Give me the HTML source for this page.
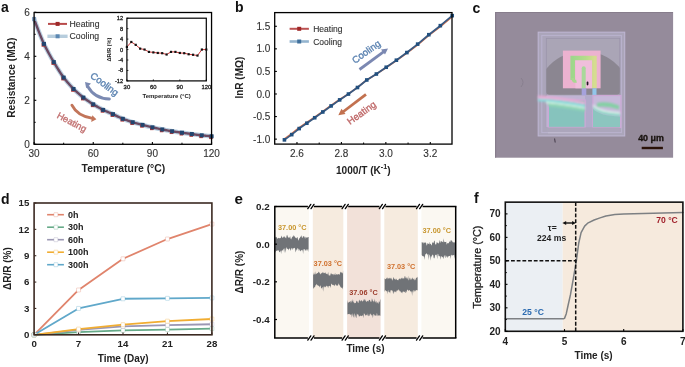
<!DOCTYPE html>
<html><head><meta charset="utf-8"><style>
html,body{margin:0;padding:0;background:#fff;}
svg{display:block;font-family:"Liberation Sans", sans-serif;will-change:transform;}
</style></head><body>
<svg width="685" height="367" viewBox="0 0 685 367">
<rect width="685" height="367" fill="#fff"/>
<text x="1.00" y="12.40" font-size="14" font-weight="bold" text-anchor="start" fill="#111">a</text>
<g>
<polyline points="34.10,18.96 35.09,21.71 36.07,24.40 37.06,27.03 38.04,29.61 39.03,32.13 40.02,34.59 41.00,37.00 41.99,39.35 42.97,41.66 43.96,43.91 44.94,45.90 45.93,47.85 46.92,49.76 47.90,51.63 48.89,53.47 49.87,55.26 50.86,57.03 51.84,58.76 52.83,60.45 53.82,62.11 54.80,63.81 55.79,65.47 56.77,67.10 57.76,68.70 58.75,70.26 59.73,71.80 60.72,73.30 61.70,74.76 62.69,76.20 63.68,77.61 64.66,78.85 65.65,80.06 66.63,81.25 67.62,82.42 68.60,83.56 69.59,84.69 70.58,85.79 71.56,86.88 72.55,87.94 73.53,88.99 74.52,89.91 75.50,90.82 76.49,91.72 77.48,92.60 78.46,93.47 79.45,94.32 80.43,95.16 81.42,95.98 82.41,96.79 83.39,97.59 84.38,98.31 85.36,99.02 86.35,99.72 87.34,100.41 88.32,101.09 89.31,101.76 90.29,102.42 91.28,103.07 92.26,103.71 93.25,104.33 94.24,104.93 95.22,105.51 96.21,106.09 97.19,106.66 98.18,107.22 99.16,107.77 100.15,108.32 101.14,108.85 102.12,109.38 103.11,109.90 104.09,110.35 105.08,110.80 106.07,111.24 107.05,111.67 108.04,112.10 109.02,112.52 110.01,112.94 111.00,113.35 111.98,113.75 112.97,114.15 113.95,114.65 114.94,115.14 115.92,115.63 116.91,116.10 117.90,116.57 118.88,117.03 119.87,117.48 120.85,117.92 121.84,118.36 122.83,118.79 123.81,119.16 124.80,119.52 125.78,119.88 126.77,120.23 127.75,120.57 128.74,120.92 129.73,121.25 130.71,121.58 131.70,121.91 132.68,122.23 133.67,122.52 134.66,122.80 135.64,123.07 136.63,123.34 137.61,123.61 138.60,123.88 139.58,124.14 140.57,124.40 141.56,124.65 142.54,124.90 143.53,125.16 144.51,125.42 145.50,125.67 146.49,125.92 147.47,126.16 148.46,126.40 149.44,126.64 150.43,126.88 151.41,127.11 152.40,127.34 153.39,127.56 154.37,127.79 155.36,128.01 156.34,128.22 157.33,128.44 158.31,128.65 159.30,128.86 160.29,129.06 161.27,129.26 162.26,129.46 163.24,129.65 164.23,129.84 165.22,130.02 166.20,130.20 167.19,130.38 168.17,130.56 169.16,130.74 170.15,130.91 171.13,131.08 172.12,131.25 173.10,131.40 174.09,131.56 175.07,131.71 176.06,131.86 177.05,132.01 178.03,132.16 179.02,132.31 180.00,132.45 180.99,132.59 181.98,132.73 182.96,132.87 183.95,133.01 184.93,133.14 185.92,133.27 186.90,133.40 187.89,133.53 188.88,133.66 189.86,133.78 190.85,133.91 191.83,134.03 192.82,134.17 193.81,134.30 194.79,134.44 195.78,134.57 196.76,134.70 197.75,134.83 198.73,134.95 199.72,135.08 200.71,135.20 201.69,135.32 202.68,135.42 203.66,135.53 204.65,135.63 205.64,135.73 206.62,135.83 207.61,135.92 208.59,136.02 209.58,136.12 210.56,136.21 211.55,136.30" fill="none" stroke="#bcd2e3" stroke-width="4.6" stroke-linejoin="round" stroke-linecap="round"/>
<polyline points="34.10,18.96 35.09,21.71 36.07,24.40 37.06,27.03 38.04,29.61 39.03,32.13 40.02,34.59 41.00,37.00 41.99,39.35 42.97,41.66 43.96,43.91 44.94,45.90 45.93,47.85 46.92,49.76 47.90,51.63 48.89,53.47 49.87,55.26 50.86,57.03 51.84,58.76 52.83,60.45 53.82,62.11 54.80,63.81 55.79,65.47 56.77,67.10 57.76,68.70 58.75,70.26 59.73,71.80 60.72,73.30 61.70,74.76 62.69,76.20 63.68,77.61 64.66,78.85 65.65,80.06 66.63,81.25 67.62,82.42 68.60,83.56 69.59,84.69 70.58,85.79 71.56,86.88 72.55,87.94 73.53,88.99 74.52,89.91 75.50,90.82 76.49,91.72 77.48,92.60 78.46,93.47 79.45,94.32 80.43,95.16 81.42,95.98 82.41,96.79 83.39,97.59 84.38,98.31 85.36,99.02 86.35,99.72 87.34,100.41 88.32,101.09 89.31,101.76 90.29,102.42 91.28,103.07 92.26,103.71 93.25,104.33 94.24,104.93 95.22,105.51 96.21,106.09 97.19,106.66 98.18,107.22 99.16,107.77 100.15,108.32 101.14,108.85 102.12,109.38 103.11,109.90 104.09,110.35 105.08,110.80 106.07,111.24 107.05,111.67 108.04,112.10 109.02,112.52 110.01,112.94 111.00,113.35 111.98,113.75 112.97,114.15 113.95,114.65 114.94,115.14 115.92,115.63 116.91,116.10 117.90,116.57 118.88,117.03 119.87,117.48 120.85,117.92 121.84,118.36 122.83,118.79 123.81,119.16 124.80,119.52 125.78,119.88 126.77,120.23 127.75,120.57 128.74,120.92 129.73,121.25 130.71,121.58 131.70,121.91 132.68,122.23 133.67,122.52 134.66,122.80 135.64,123.07 136.63,123.34 137.61,123.61 138.60,123.88 139.58,124.14 140.57,124.40 141.56,124.65 142.54,124.90 143.53,125.16 144.51,125.42 145.50,125.67 146.49,125.92 147.47,126.16 148.46,126.40 149.44,126.64 150.43,126.88 151.41,127.11 152.40,127.34 153.39,127.56 154.37,127.79 155.36,128.01 156.34,128.22 157.33,128.44 158.31,128.65 159.30,128.86 160.29,129.06 161.27,129.26 162.26,129.46 163.24,129.65 164.23,129.84 165.22,130.02 166.20,130.20 167.19,130.38 168.17,130.56 169.16,130.74 170.15,130.91 171.13,131.08 172.12,131.25 173.10,131.40 174.09,131.56 175.07,131.71 176.06,131.86 177.05,132.01 178.03,132.16 179.02,132.31 180.00,132.45 180.99,132.59 181.98,132.73 182.96,132.87 183.95,133.01 184.93,133.14 185.92,133.27 186.90,133.40 187.89,133.53 188.88,133.66 189.86,133.78 190.85,133.91 191.83,134.03 192.82,134.17 193.81,134.30 194.79,134.44 195.78,134.57 196.76,134.70 197.75,134.83 198.73,134.95 199.72,135.08 200.71,135.20 201.69,135.32 202.68,135.42 203.66,135.53 204.65,135.63 205.64,135.73 206.62,135.83 207.61,135.92 208.59,136.02 209.58,136.12 210.56,136.21 211.55,136.30" fill="none" stroke="#6a4a62" stroke-width="2.4" stroke-linejoin="round" stroke-linecap="round"/>
<rect x="41.56" y="43.11" width="3.6" height="3.6" fill="#b23c3c"/>
<rect x="51.42" y="61.31" width="3.6" height="3.6" fill="#b23c3c"/>
<rect x="61.28" y="76.81" width="3.6" height="3.6" fill="#b23c3c"/>
<rect x="71.13" y="88.19" width="3.6" height="3.6" fill="#b23c3c"/>
<rect x="80.99" y="96.79" width="3.6" height="3.6" fill="#b23c3c"/>
<rect x="90.85" y="103.53" width="3.6" height="3.6" fill="#b23c3c"/>
<rect x="100.71" y="109.10" width="3.6" height="3.6" fill="#b23c3c"/>
<rect x="110.57" y="113.35" width="3.6" height="3.6" fill="#b23c3c"/>
<rect x="120.43" y="117.99" width="3.6" height="3.6" fill="#b23c3c"/>
<rect x="130.28" y="121.43" width="3.6" height="3.6" fill="#b23c3c"/>
<rect x="140.14" y="124.10" width="3.6" height="3.6" fill="#b23c3c"/>
<rect x="150.00" y="126.54" width="3.6" height="3.6" fill="#b23c3c"/>
<rect x="159.86" y="128.66" width="3.6" height="3.6" fill="#b23c3c"/>
<rect x="169.72" y="130.45" width="3.6" height="3.6" fill="#b23c3c"/>
<rect x="179.58" y="131.93" width="3.6" height="3.6" fill="#b23c3c"/>
<rect x="189.43" y="133.23" width="3.6" height="3.6" fill="#b23c3c"/>
<rect x="199.29" y="134.52" width="3.6" height="3.6" fill="#b23c3c"/>
<rect x="209.15" y="135.50" width="3.6" height="3.6" fill="#b23c3c"/>
<rect x="32.10" y="16.96" width="4" height="4" fill="#7f9cc0"/>
<rect x="41.96" y="41.91" width="4" height="4" fill="#22456f"/>
<rect x="51.82" y="60.11" width="4" height="4" fill="#22456f"/>
<rect x="61.68" y="75.61" width="4" height="4" fill="#22456f"/>
<rect x="71.53" y="86.99" width="4" height="4" fill="#22456f"/>
<rect x="81.39" y="95.59" width="4" height="4" fill="#22456f"/>
<rect x="91.25" y="102.33" width="4" height="4" fill="#22456f"/>
<rect x="101.11" y="107.90" width="4" height="4" fill="#22456f"/>
<rect x="110.97" y="112.15" width="4" height="4" fill="#22456f"/>
<rect x="120.83" y="116.79" width="4" height="4" fill="#22456f"/>
<rect x="130.68" y="120.23" width="4" height="4" fill="#22456f"/>
<rect x="140.54" y="122.90" width="4" height="4" fill="#22456f"/>
<rect x="150.40" y="125.34" width="4" height="4" fill="#22456f"/>
<rect x="160.26" y="127.46" width="4" height="4" fill="#22456f"/>
<rect x="170.12" y="129.25" width="4" height="4" fill="#22456f"/>
<rect x="179.98" y="130.73" width="4" height="4" fill="#22456f"/>
<rect x="189.83" y="132.03" width="4" height="4" fill="#22456f"/>
<rect x="199.69" y="133.32" width="4" height="4" fill="#22456f"/>
<rect x="209.55" y="134.30" width="4" height="4" fill="#22456f"/>
</g>
<rect x="34.1" y="12.5" width="177.45" height="131.80" fill="none" stroke="#000" stroke-width="1.3"/>
<line x1="34.10" y1="144.30" x2="34.10" y2="142.10" stroke="#000" stroke-width="1.1"/>
<text x="34.10" y="156.60" font-size="10" text-anchor="middle" fill="#333" stroke="#333" stroke-width="0.12">30</text>
<line x1="93.25" y1="144.30" x2="93.25" y2="142.10" stroke="#000" stroke-width="1.1"/>
<text x="93.25" y="156.60" font-size="10" text-anchor="middle" fill="#333" stroke="#333" stroke-width="0.12">60</text>
<line x1="152.40" y1="144.30" x2="152.40" y2="142.10" stroke="#000" stroke-width="1.1"/>
<text x="152.40" y="156.60" font-size="10" text-anchor="middle" fill="#333" stroke="#333" stroke-width="0.12">90</text>
<line x1="211.55" y1="144.30" x2="211.55" y2="142.10" stroke="#000" stroke-width="1.1"/>
<text x="211.55" y="156.60" font-size="10" text-anchor="middle" fill="#333" stroke="#333" stroke-width="0.12">120</text>
<line x1="63.68" y1="144.30" x2="63.68" y2="142.70" stroke="#000" stroke-width="1.0"/>
<line x1="122.83" y1="144.30" x2="122.83" y2="142.70" stroke="#000" stroke-width="1.0"/>
<line x1="181.98" y1="144.30" x2="181.98" y2="142.70" stroke="#000" stroke-width="1.0"/>
<line x1="34.10" y1="144.30" x2="36.30" y2="144.30" stroke="#000" stroke-width="1.1"/>
<text x="29.80" y="147.90" font-size="10" text-anchor="end" fill="#333" stroke="#333" stroke-width="0.12">0</text>
<line x1="34.10" y1="100.30" x2="36.30" y2="100.30" stroke="#000" stroke-width="1.1"/>
<text x="29.80" y="103.90" font-size="10" text-anchor="end" fill="#333" stroke="#333" stroke-width="0.12">2</text>
<line x1="34.10" y1="56.30" x2="36.30" y2="56.30" stroke="#000" stroke-width="1.1"/>
<text x="29.80" y="59.90" font-size="10" text-anchor="end" fill="#333" stroke="#333" stroke-width="0.12">4</text>
<line x1="34.10" y1="12.30" x2="36.30" y2="12.30" stroke="#000" stroke-width="1.1"/>
<text x="29.80" y="15.90" font-size="10" text-anchor="end" fill="#333" stroke="#333" stroke-width="0.12">6</text>
<line x1="34.10" y1="122.30" x2="35.70" y2="122.30" stroke="#000" stroke-width="1.0"/>
<line x1="34.10" y1="78.30" x2="35.70" y2="78.30" stroke="#000" stroke-width="1.0"/>
<line x1="34.10" y1="34.30" x2="35.70" y2="34.30" stroke="#000" stroke-width="1.0"/>
<text x="123.40" y="171.60" font-size="10.4" font-weight="bold" text-anchor="middle" fill="#222">Temperature (°C)</text>
<text x="14.70" y="77.75" font-size="10.2" font-weight="bold" text-anchor="middle" fill="#222" transform="rotate(-90 14.70 77.75)">Resistance (MΩ)</text>
<line x1="48.00" y1="23.90" x2="67.00" y2="23.90" stroke="#b84a4a" stroke-width="2.0"/>
<rect x="55.6" y="21.9" width="4" height="4" fill="#9e2a2a"/>
<line x1="47.40" y1="36.30" x2="67.60" y2="36.30" stroke="#b7cddd" stroke-width="3.4"/>
<rect x="55.6" y="34.3" width="4" height="4" fill="#5c88b2"/>
<text x="69.60" y="26.80" font-size="8.7" text-anchor="start" fill="#333" stroke="#333" stroke-width="0.12">Heating</text>
<text x="69.60" y="39.00" font-size="8.7" text-anchor="start" fill="#333" stroke="#333" stroke-width="0.12">Cooling</text>
<text x="89.60" y="76.90" font-size="9.6" text-anchor="start" fill="#5d84b2" transform="rotate(37 89.60 76.90)" stroke="#5d84b2" stroke-width="0.35">Cooling</text>
<path d="M109.4,99 Q94.5,98.5 87.8,86.5" fill="none" stroke="#7b8ab2" stroke-width="2.9" stroke-linecap="round"/>
<path d="M85.0,82.0 L91.0,83.6 L86.2,88.2 Z" fill="#7b8ab2"/>
<text x="56.20" y="117.40" font-size="9.3" text-anchor="start" fill="#c27171" transform="rotate(28 56.20 117.40)" stroke="#c27171" stroke-width="0.35">Heating</text>
<path d="M71.9,105.2 Q77.5,116.3 92.6,118.4" fill="none" stroke="#c2755a" stroke-width="2.9" stroke-linecap="round"/>
<path d="M96.4,119.3 L92.3,115.2 L91.2,121.9 Z" fill="#c2755a"/>
<rect x="126.9" y="18.2" width="79.40" height="62.70" fill="#fff" stroke="#000" stroke-width="1.2"/>
<polyline points="126.90,46.94 131.31,41.97 135.72,44.85 140.13,48.64 144.54,49.55 148.96,51.90 153.37,52.42 157.78,52.95 162.19,53.21 166.60,54.51 171.01,51.90 175.42,51.90 179.83,52.95 184.24,53.21 188.66,54.25 193.07,54.78 197.48,55.56 201.89,49.55 206.30,49.55" fill="none" stroke="#d03a3a" stroke-width="1.0" stroke-linejoin="round" stroke-linecap="round"/>
<rect x="125.80" y="45.84" width="2.2" height="2.2" fill="#111"/>
<rect x="130.21" y="40.87" width="2.2" height="2.2" fill="#111"/>
<rect x="134.62" y="43.75" width="2.2" height="2.2" fill="#111"/>
<rect x="139.03" y="47.54" width="2.2" height="2.2" fill="#111"/>
<rect x="143.44" y="48.45" width="2.2" height="2.2" fill="#111"/>
<rect x="147.86" y="50.80" width="2.2" height="2.2" fill="#111"/>
<rect x="152.27" y="51.32" width="2.2" height="2.2" fill="#111"/>
<rect x="156.68" y="51.85" width="2.2" height="2.2" fill="#111"/>
<rect x="161.09" y="52.11" width="2.2" height="2.2" fill="#111"/>
<rect x="165.50" y="53.41" width="2.2" height="2.2" fill="#111"/>
<rect x="169.91" y="50.80" width="2.2" height="2.2" fill="#111"/>
<rect x="174.32" y="50.80" width="2.2" height="2.2" fill="#111"/>
<rect x="178.73" y="51.85" width="2.2" height="2.2" fill="#111"/>
<rect x="183.14" y="52.11" width="2.2" height="2.2" fill="#111"/>
<rect x="187.56" y="53.15" width="2.2" height="2.2" fill="#111"/>
<rect x="191.97" y="53.68" width="2.2" height="2.2" fill="#111"/>
<rect x="196.38" y="54.46" width="2.2" height="2.2" fill="#111"/>
<rect x="200.79" y="48.45" width="2.2" height="2.2" fill="#111"/>
<rect x="205.20" y="48.45" width="2.2" height="2.2" fill="#111"/>
<line x1="126.90" y1="18.20" x2="128.40" y2="18.20" stroke="#000" stroke-width="0.8"/>
<text x="123.20" y="20.20" font-size="5.7" text-anchor="end" fill="#222" stroke="#222" stroke-width="0.3">12</text>
<line x1="126.90" y1="28.65" x2="128.40" y2="28.65" stroke="#000" stroke-width="0.8"/>
<text x="123.20" y="30.65" font-size="5.7" text-anchor="end" fill="#222" stroke="#222" stroke-width="0.3">8</text>
<line x1="126.90" y1="39.10" x2="128.40" y2="39.10" stroke="#000" stroke-width="0.8"/>
<text x="123.20" y="41.10" font-size="5.7" text-anchor="end" fill="#222" stroke="#222" stroke-width="0.3">4</text>
<line x1="126.90" y1="49.55" x2="128.40" y2="49.55" stroke="#000" stroke-width="0.8"/>
<text x="123.20" y="51.55" font-size="5.7" text-anchor="end" fill="#222" stroke="#222" stroke-width="0.3">0</text>
<line x1="126.90" y1="60.00" x2="128.40" y2="60.00" stroke="#000" stroke-width="0.8"/>
<text x="123.20" y="62.00" font-size="5.7" text-anchor="end" fill="#222" stroke="#222" stroke-width="0.3">-4</text>
<line x1="126.90" y1="70.45" x2="128.40" y2="70.45" stroke="#000" stroke-width="0.8"/>
<text x="123.20" y="72.45" font-size="5.7" text-anchor="end" fill="#222" stroke="#222" stroke-width="0.3">-8</text>
<line x1="126.90" y1="80.90" x2="128.40" y2="80.90" stroke="#000" stroke-width="0.8"/>
<text x="123.20" y="82.90" font-size="5.7" text-anchor="end" fill="#222" stroke="#222" stroke-width="0.3">-12</text>
<line x1="126.90" y1="80.90" x2="126.90" y2="79.40" stroke="#000" stroke-width="0.8"/>
<text x="126.90" y="89.00" font-size="5.9" text-anchor="middle" fill="#222" stroke="#222" stroke-width="0.3">30</text>
<line x1="153.37" y1="80.90" x2="153.37" y2="79.40" stroke="#000" stroke-width="0.8"/>
<text x="153.37" y="89.00" font-size="5.9" text-anchor="middle" fill="#222" stroke="#222" stroke-width="0.3">60</text>
<line x1="179.83" y1="80.90" x2="179.83" y2="79.40" stroke="#000" stroke-width="0.8"/>
<text x="179.83" y="89.00" font-size="5.9" text-anchor="middle" fill="#222" stroke="#222" stroke-width="0.3">90</text>
<line x1="206.30" y1="80.90" x2="206.30" y2="79.40" stroke="#000" stroke-width="0.8"/>
<text x="206.30" y="89.00" font-size="5.9" text-anchor="middle" fill="#222" stroke="#222" stroke-width="0.3">120</text>
<text x="166.60" y="97.60" font-size="6.0" font-weight="bold" text-anchor="middle" fill="#222">Temperature (°C)</text>
<text x="111.20" y="49.50" font-size="5.6" font-weight="bold" text-anchor="middle" fill="#222" transform="rotate(-90 111.20 49.50)">ΔR/R (%)</text>
<text x="235.10" y="12.00" font-size="14" font-weight="bold" text-anchor="start" fill="#111">b</text>
<polyline points="452.22,16.74 440.33,26.61 428.81,35.49 417.66,44.78 406.86,53.08 396.38,60.57 386.22,67.48 376.35,74.12 366.78,79.95 357.48,87.37 348.44,93.80 339.66,99.51 331.12,105.44 322.81,111.39 314.72,117.06 306.85,122.42 299.18,127.69 291.71,133.64 284.43,138.78" fill="none" stroke="#d0714e" stroke-width="1.6" stroke-linejoin="round" stroke-linecap="round"/>
<polyline points="452.22,15.65 440.33,25.67 428.81,34.70 417.66,44.13 406.86,52.57 396.38,60.20 386.22,67.24 376.35,74.01 366.78,79.97 357.48,87.51 348.44,94.05 339.66,99.88 331.12,105.93 322.81,111.98 314.72,117.75 306.85,123.22 299.18,128.59 291.71,134.64 284.43,139.87" fill="none" stroke="#3a5a82" stroke-width="1.8" stroke-linejoin="round" stroke-linecap="round"/>
<rect x="450.42" y="13.85" width="3.6" height="3.6" fill="#22507f"/>
<rect x="438.53" y="23.87" width="3.6" height="3.6" fill="#22507f"/>
<rect x="427.01" y="32.90" width="3.6" height="3.6" fill="#22507f"/>
<rect x="415.86" y="42.33" width="3.6" height="3.6" fill="#22507f"/>
<rect x="405.06" y="50.77" width="3.6" height="3.6" fill="#22507f"/>
<rect x="394.58" y="58.40" width="3.6" height="3.6" fill="#22507f"/>
<rect x="384.42" y="65.44" width="3.6" height="3.6" fill="#22507f"/>
<rect x="374.55" y="72.21" width="3.6" height="3.6" fill="#22507f"/>
<rect x="364.98" y="78.17" width="3.6" height="3.6" fill="#22507f"/>
<rect x="355.68" y="85.71" width="3.6" height="3.6" fill="#22507f"/>
<rect x="346.64" y="92.25" width="3.6" height="3.6" fill="#22507f"/>
<rect x="337.86" y="98.08" width="3.6" height="3.6" fill="#22507f"/>
<rect x="329.32" y="104.13" width="3.6" height="3.6" fill="#22507f"/>
<rect x="321.01" y="110.18" width="3.6" height="3.6" fill="#22507f"/>
<rect x="312.92" y="115.95" width="3.6" height="3.6" fill="#22507f"/>
<rect x="305.05" y="121.42" width="3.6" height="3.6" fill="#22507f"/>
<rect x="297.38" y="126.79" width="3.6" height="3.6" fill="#22507f"/>
<rect x="289.91" y="132.84" width="3.6" height="3.6" fill="#22507f"/>
<rect x="282.63" y="138.07" width="3.6" height="3.6" fill="#22507f"/>
<rect x="274.7" y="12.6" width="177.30" height="131.50" fill="none" stroke="#000" stroke-width="1.3"/>
<line x1="296.97" y1="144.10" x2="296.97" y2="141.90" stroke="#000" stroke-width="1.1"/>
<text x="296.97" y="156.80" font-size="10" text-anchor="middle" fill="#333" stroke="#333" stroke-width="0.12">2.6</text>
<line x1="341.41" y1="144.10" x2="341.41" y2="141.90" stroke="#000" stroke-width="1.1"/>
<text x="341.41" y="156.80" font-size="10" text-anchor="middle" fill="#333" stroke="#333" stroke-width="0.12">2.8</text>
<line x1="385.85" y1="144.10" x2="385.85" y2="141.90" stroke="#000" stroke-width="1.1"/>
<text x="385.85" y="156.80" font-size="10" text-anchor="middle" fill="#333" stroke="#333" stroke-width="0.12">3.0</text>
<line x1="430.29" y1="144.10" x2="430.29" y2="141.90" stroke="#000" stroke-width="1.1"/>
<text x="430.29" y="156.80" font-size="10" text-anchor="middle" fill="#333" stroke="#333" stroke-width="0.12">3.2</text>
<line x1="319.19" y1="144.10" x2="319.19" y2="142.50" stroke="#000" stroke-width="1.0"/>
<line x1="363.63" y1="144.10" x2="363.63" y2="142.50" stroke="#000" stroke-width="1.0"/>
<line x1="408.07" y1="144.10" x2="408.07" y2="142.50" stroke="#000" stroke-width="1.0"/>
<line x1="274.70" y1="26.28" x2="276.90" y2="26.28" stroke="#000" stroke-width="1.1"/>
<text x="270.30" y="29.88" font-size="10" text-anchor="end" fill="#333" stroke="#333" stroke-width="0.12">1.5</text>
<line x1="274.70" y1="48.85" x2="276.90" y2="48.85" stroke="#000" stroke-width="1.1"/>
<text x="270.30" y="52.45" font-size="10" text-anchor="end" fill="#333" stroke="#333" stroke-width="0.12">1.0</text>
<line x1="274.70" y1="71.42" x2="276.90" y2="71.42" stroke="#000" stroke-width="1.1"/>
<text x="270.30" y="75.02" font-size="10" text-anchor="end" fill="#333" stroke="#333" stroke-width="0.12">0.5</text>
<line x1="274.70" y1="93.99" x2="276.90" y2="93.99" stroke="#000" stroke-width="1.1"/>
<text x="270.30" y="97.59" font-size="10" text-anchor="end" fill="#333" stroke="#333" stroke-width="0.12">0.0</text>
<line x1="274.70" y1="116.56" x2="276.90" y2="116.56" stroke="#000" stroke-width="1.1"/>
<text x="270.30" y="120.16" font-size="10" text-anchor="end" fill="#333" stroke="#333" stroke-width="0.12">-0.5</text>
<line x1="274.70" y1="139.13" x2="276.90" y2="139.13" stroke="#000" stroke-width="1.1"/>
<text x="270.30" y="142.73" font-size="10" text-anchor="end" fill="#333" stroke="#333" stroke-width="0.12">-1.0</text>
<text x="363.30" y="173.90" font-size="10.1" font-weight="bold" text-anchor="middle" fill="#222">1000/T (K<tspan font-size="7.2" dy="-4.6">-1</tspan><tspan dy="4.6">)</tspan></text>
<text x="243.10" y="77.60" font-size="10.0" font-weight="bold" text-anchor="middle" fill="#222" transform="rotate(-90 243.10 77.60)">lnR (MΩ)</text>
<line x1="289.60" y1="28.80" x2="308.90" y2="28.80" stroke="#bb5252" stroke-width="2.0"/>
<rect x="297.2" y="26.8" width="4" height="4" fill="#a02828"/>
<line x1="289.60" y1="41.50" x2="308.90" y2="41.50" stroke="#94b4cf" stroke-width="2.6"/>
<rect x="297.2" y="39.5" width="4" height="4" fill="#40709c"/>
<text x="313.20" y="32.40" font-size="8.5" text-anchor="start" fill="#333" stroke="#333" stroke-width="0.12">Heating</text>
<text x="313.20" y="45.00" font-size="8.5" text-anchor="start" fill="#333" stroke="#333" stroke-width="0.12">Cooling</text>
<text x="354.90" y="63.90" font-size="9.6" text-anchor="start" fill="#5d84b2" transform="rotate(-35.5 354.90 63.90)" stroke="#5d84b2" stroke-width="0.35">Cooling</text>
<line x1="359.50" y1="69.50" x2="384.50" y2="51.20" stroke="#7b88b2" stroke-width="2.8"/>
<path d="M388,48.5 L381,49.5 L385,54.5 Z" fill="#7b88b2"/>
<line x1="366.00" y1="94.40" x2="341.50" y2="113.00" stroke="#c2714f" stroke-width="2.8"/>
<path d="M338.3,115.3 L341.5,108.8 L345.5,114 Z" fill="#c2714f"/>
<text x="350.00" y="125.00" font-size="9.6" text-anchor="start" fill="#c06b6b" transform="rotate(-35.5 350.00 125.00)" stroke="#c06b6b" stroke-width="0.35">Heating</text>
<text x="472.50" y="12.70" font-size="14" font-weight="bold" text-anchor="start" fill="#111">c</text>
<g>
<defs>
<filter id="bl" x="-5%" y="-5%" width="110%" height="110%"><feGaussianBlur stdDeviation="0.6"/></filter>
<filter id="bl2" x="-10%" y="-10%" width="120%" height="120%"><feGaussianBlur stdDeviation="0.9"/></filter>
<clipPath id="cc"><rect x="495" y="12" width="178.1" height="145.7"/></clipPath>
<clipPath id="ci"><rect x="546.3" y="30" width="73.5" height="64.8" rx="3"/></clipPath>
<linearGradient id="gm" x1="0" y1="0" x2="1" y2="0"><stop offset="0" stop-color="#9ed78c"/><stop offset="0.6" stop-color="#b6dc8a"/><stop offset="1" stop-color="#d6dc90"/></linearGradient>
</defs>
<rect x="495" y="12" width="178.1" height="145.7" fill="#958b9b"/>
<g clip-path="url(#cc)" filter="url(#bl)">
<rect x="495" y="12" width="178.1" height="1" fill="#877d8c"/>
<rect x="495" y="12" width="1.2" height="145.7" fill="#877d8c"/>
<rect x="538.2" y="32.2" width="86.5" height="103.7" fill="#aba5ba" stroke="#bdb5d2" stroke-width="1.1"/>
<rect x="541.8" y="35.4" width="79.6" height="97.2" fill="none" stroke="#bab3cf" stroke-width="1.0"/>
<rect x="546.3" y="38.3" width="73.5" height="89.2" fill="#aaa5b6" stroke="#9b94ab" stroke-width="0.8"/>
<circle cx="583.5" cy="99.2" r="48" fill="#8b8691" clip-path="url(#ci)"/>
<rect x="562.9" y="50.6" width="37.7" height="37.7" fill="#ecb2d0"/>
<rect x="575.4" y="60" width="16.6" height="28.3" fill="#f0bedb"/>
<path d="M572.7,80 V58 H594.4 V88.3" fill="none" stroke="url(#gm)" stroke-width="4.6"/>
<path d="M572.7,78 Q572.9,82 576.5,81.2" fill="none" stroke="#a8d890" stroke-width="3"/>
<path d="M583.7,88.3 V68.2" fill="none" stroke="#a8d89a" stroke-width="4" stroke-linecap="round"/>
<rect x="581.7" y="88.3" width="4.6" height="7.5" fill="#a6a2dc"/>
<rect x="592.4" y="88.3" width="4.1" height="7.5" fill="#92c6ea"/>
<rect x="586.7" y="81.6" width="1.7" height="3.8" rx="0.8" fill="#201820"/>
<rect x="546.3" y="95.5" width="73.5" height="32" fill="#c0b4d4"/>
<rect x="585.1" y="95.5" width="7.8" height="32" fill="#b2aacb"/>
<rect x="548.3" y="100" width="36.8" height="27.5" fill="#86c3bd" stroke="#cda8d6" stroke-width="1.3"/>
<g filter="url(#bl2)">
<path d="M538,95.5 Q560,96.5 585,101.5 L585,104.5 Q560,99.5 538,98.8 Z" fill="#e8aed6"/>
<path d="M538,98.8 Q560,99.5 585,104.5 L585,107 Q560,102 538,101.3 Z" fill="#84dcdc"/>
<path d="M546,101.3 Q562,102.8 585,107 L585,109 Q562,104.8 546,103.6 Z" fill="#cdeee0"/>
<path d="M548,103.6 Q563,105 585,109 L585,111.5 Q563,107.5 548,106.2 Z" fill="#8fd6b6"/>
</g>
<rect x="592.9" y="95.5" width="28" height="32" fill="#c7b9da" stroke="#cda8d6" stroke-width="1.2"/>
<g filter="url(#bl2)">
<path d="M597,103 Q607,100.5 619,105.5 L619,109.5 Q607,105.5 597,107 Z" fill="#84d0a4"/>
<path d="M593,104 Q598,110.5 620,112 L620,114 Q598,113 593,106.5 Z" fill="#d8f0ea"/>
<path d="M593,106.5 Q599,113 620,114 L620,116.5 Q599,115.5 593,109 Z" fill="#86d6c4"/>
</g>
<path d="M593,109 Q600,116 620,116.5 L620,127 L593,127 Z" fill="#8cc5bf"/>
<rect x="546.3" y="127.5" width="73.5" height="4.5" fill="#aca6bc"/>
<line x1="548" y1="132.8" x2="590" y2="132.8" stroke="#c4c0d2" stroke-width="0.9"/>
<path d="M554.6,138.5 L555.2,142.5" stroke="#3a3040" stroke-width="0.9"/>
<path d="M521,78 Q525,82 521,87" fill="none" stroke="#857c8c" stroke-width="0.8"/>
</g>
<text x="638.2" y="141.0" font-size="8.9" font-weight="bold" fill="#1a1410" stroke="#1a1410" stroke-width="0.35">40 μm</text>
<rect x="641.7" y="146.8" width="21.2" height="2.4" fill="#2a1208"/>
</g>
<text x="0.90" y="204.10" font-size="14" font-weight="bold" text-anchor="start" fill="#111">d</text>
<polyline points="34.10,334.80 78.55,289.99 123.00,258.80 167.45,239.03 211.90,224.09" fill="none" stroke="#e0846c" stroke-width="1.8" stroke-linejoin="round" stroke-linecap="round"/>
<polyline points="34.10,334.80 78.55,332.16 123.00,330.41 167.45,329.53 211.90,328.65" fill="none" stroke="#66aa88" stroke-width="1.8" stroke-linejoin="round" stroke-linecap="round"/>
<polyline points="34.10,334.80 78.55,329.97 123.00,326.45 167.45,325.13 211.90,324.26" fill="none" stroke="#9b97b3" stroke-width="1.8" stroke-linejoin="round" stroke-linecap="round"/>
<polyline points="34.10,334.80 78.55,329.09 123.00,324.70 167.45,321.18 211.90,318.98" fill="none" stroke="#f1ad32" stroke-width="1.8" stroke-linejoin="round" stroke-linecap="round"/>
<polyline points="34.10,334.80 78.55,308.44 123.00,298.77 167.45,298.34 211.90,297.90" fill="none" stroke="#60a8ca" stroke-width="1.8" stroke-linejoin="round" stroke-linecap="round"/>
<rect x="32.10" y="332.80" width="4" height="4" rx="0.4" fill="#fff" stroke="#e0846c" stroke-opacity="0.45" stroke-width="0.7"/>
<rect x="76.55" y="287.99" width="4" height="4" rx="0.4" fill="#fff" stroke="#e0846c" stroke-opacity="0.45" stroke-width="0.7"/>
<rect x="121.00" y="256.80" width="4" height="4" rx="0.4" fill="#fff" stroke="#e0846c" stroke-opacity="0.45" stroke-width="0.7"/>
<rect x="165.45" y="237.03" width="4" height="4" rx="0.4" fill="#fff" stroke="#e0846c" stroke-opacity="0.45" stroke-width="0.7"/>
<rect x="209.90" y="222.09" width="4" height="4" rx="0.4" fill="#fff" stroke="#e0846c" stroke-opacity="0.45" stroke-width="0.7"/>
<rect x="32.10" y="332.80" width="4" height="4" rx="0.4" fill="#fff" stroke="#66aa88" stroke-opacity="0.45" stroke-width="0.7"/>
<rect x="76.55" y="330.16" width="4" height="4" rx="0.4" fill="#fff" stroke="#66aa88" stroke-opacity="0.45" stroke-width="0.7"/>
<rect x="121.00" y="328.41" width="4" height="4" rx="0.4" fill="#fff" stroke="#66aa88" stroke-opacity="0.45" stroke-width="0.7"/>
<rect x="165.45" y="327.53" width="4" height="4" rx="0.4" fill="#fff" stroke="#66aa88" stroke-opacity="0.45" stroke-width="0.7"/>
<rect x="209.90" y="326.65" width="4" height="4" rx="0.4" fill="#fff" stroke="#66aa88" stroke-opacity="0.45" stroke-width="0.7"/>
<rect x="32.10" y="332.80" width="4" height="4" rx="0.4" fill="#fff" stroke="#9b97b3" stroke-opacity="0.45" stroke-width="0.7"/>
<rect x="76.55" y="327.97" width="4" height="4" rx="0.4" fill="#fff" stroke="#9b97b3" stroke-opacity="0.45" stroke-width="0.7"/>
<rect x="121.00" y="324.45" width="4" height="4" rx="0.4" fill="#fff" stroke="#9b97b3" stroke-opacity="0.45" stroke-width="0.7"/>
<rect x="165.45" y="323.13" width="4" height="4" rx="0.4" fill="#fff" stroke="#9b97b3" stroke-opacity="0.45" stroke-width="0.7"/>
<rect x="209.90" y="322.26" width="4" height="4" rx="0.4" fill="#fff" stroke="#9b97b3" stroke-opacity="0.45" stroke-width="0.7"/>
<rect x="32.10" y="332.80" width="4" height="4" rx="0.4" fill="#fff" stroke="#f1ad32" stroke-opacity="0.45" stroke-width="0.7"/>
<rect x="76.55" y="327.09" width="4" height="4" rx="0.4" fill="#fff" stroke="#f1ad32" stroke-opacity="0.45" stroke-width="0.7"/>
<rect x="121.00" y="322.70" width="4" height="4" rx="0.4" fill="#fff" stroke="#f1ad32" stroke-opacity="0.45" stroke-width="0.7"/>
<rect x="165.45" y="319.18" width="4" height="4" rx="0.4" fill="#fff" stroke="#f1ad32" stroke-opacity="0.45" stroke-width="0.7"/>
<rect x="209.90" y="316.98" width="4" height="4" rx="0.4" fill="#fff" stroke="#f1ad32" stroke-opacity="0.45" stroke-width="0.7"/>
<rect x="32.10" y="332.80" width="4" height="4" rx="0.4" fill="#fff" stroke="#60a8ca" stroke-opacity="0.45" stroke-width="0.7"/>
<rect x="76.55" y="306.44" width="4" height="4" rx="0.4" fill="#fff" stroke="#60a8ca" stroke-opacity="0.45" stroke-width="0.7"/>
<rect x="121.00" y="296.77" width="4" height="4" rx="0.4" fill="#fff" stroke="#60a8ca" stroke-opacity="0.45" stroke-width="0.7"/>
<rect x="165.45" y="296.34" width="4" height="4" rx="0.4" fill="#fff" stroke="#60a8ca" stroke-opacity="0.45" stroke-width="0.7"/>
<rect x="209.90" y="295.90" width="4" height="4" rx="0.4" fill="#fff" stroke="#60a8ca" stroke-opacity="0.45" stroke-width="0.7"/>
<rect x="34.1" y="203.0" width="177.80" height="131.80" fill="none" stroke="#3b2a22" stroke-width="1.6"/>
<line x1="34.10" y1="334.80" x2="34.10" y2="332.60" stroke="#3b2a22" stroke-width="1.1"/>
<text x="34.10" y="347.40" font-size="9.7" font-weight="bold" text-anchor="middle" fill="#222">0</text>
<line x1="78.55" y1="334.80" x2="78.55" y2="332.60" stroke="#3b2a22" stroke-width="1.1"/>
<text x="78.55" y="347.40" font-size="9.7" font-weight="bold" text-anchor="middle" fill="#222">7</text>
<line x1="123.00" y1="334.80" x2="123.00" y2="332.60" stroke="#3b2a22" stroke-width="1.1"/>
<text x="123.00" y="347.40" font-size="9.7" font-weight="bold" text-anchor="middle" fill="#222">14</text>
<line x1="167.45" y1="334.80" x2="167.45" y2="332.60" stroke="#3b2a22" stroke-width="1.1"/>
<text x="167.45" y="347.40" font-size="9.7" font-weight="bold" text-anchor="middle" fill="#222">21</text>
<line x1="211.90" y1="334.80" x2="211.90" y2="332.60" stroke="#3b2a22" stroke-width="1.1"/>
<text x="211.90" y="347.40" font-size="9.7" font-weight="bold" text-anchor="middle" fill="#222">28</text>
<line x1="34.10" y1="334.80" x2="36.30" y2="334.80" stroke="#3b2a22" stroke-width="1.1"/>
<text x="29.30" y="338.20" font-size="9.7" font-weight="bold" text-anchor="end" fill="#222">0</text>
<line x1="34.10" y1="308.44" x2="36.30" y2="308.44" stroke="#3b2a22" stroke-width="1.1"/>
<text x="29.30" y="311.84" font-size="9.7" font-weight="bold" text-anchor="end" fill="#222">3</text>
<line x1="34.10" y1="282.08" x2="36.30" y2="282.08" stroke="#3b2a22" stroke-width="1.1"/>
<text x="29.30" y="285.48" font-size="9.7" font-weight="bold" text-anchor="end" fill="#222">6</text>
<line x1="34.10" y1="255.72" x2="36.30" y2="255.72" stroke="#3b2a22" stroke-width="1.1"/>
<text x="29.30" y="259.12" font-size="9.7" font-weight="bold" text-anchor="end" fill="#222">9</text>
<line x1="34.10" y1="229.36" x2="36.30" y2="229.36" stroke="#3b2a22" stroke-width="1.1"/>
<text x="29.30" y="232.76" font-size="9.7" font-weight="bold" text-anchor="end" fill="#222">12</text>
<line x1="34.10" y1="203.00" x2="36.30" y2="203.00" stroke="#3b2a22" stroke-width="1.1"/>
<text x="29.30" y="206.40" font-size="9.7" font-weight="bold" text-anchor="end" fill="#222">15</text>
<text x="123.20" y="361.60" font-size="10" font-weight="bold" text-anchor="middle" fill="#222">Time (Day)</text>
<text x="11.50" y="268.60" font-size="10" font-weight="bold" text-anchor="middle" fill="#222" transform="rotate(-90 11.50 268.60)">ΔR/R (%)</text>
<line x1="47.10" y1="214.70" x2="63.90" y2="214.70" stroke="#e0846c" stroke-width="1.6"/>
<rect x="53.9" y="212.70" width="4" height="4" rx="0.4" fill="#fff" stroke="#e0846c" stroke-opacity="0.45" stroke-width="0.7"/>
<text x="68.00" y="217.90" font-size="9.0" font-weight="bold" text-anchor="start" fill="#222">0h</text>
<line x1="47.10" y1="227.20" x2="63.90" y2="227.20" stroke="#66aa88" stroke-width="1.6"/>
<rect x="53.9" y="225.20" width="4" height="4" rx="0.4" fill="#fff" stroke="#66aa88" stroke-opacity="0.45" stroke-width="0.7"/>
<text x="68.00" y="230.40" font-size="9.0" font-weight="bold" text-anchor="start" fill="#222">30h</text>
<line x1="47.10" y1="239.70" x2="63.90" y2="239.70" stroke="#9b97b3" stroke-width="1.6"/>
<rect x="53.9" y="237.70" width="4" height="4" rx="0.4" fill="#fff" stroke="#9b97b3" stroke-opacity="0.45" stroke-width="0.7"/>
<text x="68.00" y="242.90" font-size="9.0" font-weight="bold" text-anchor="start" fill="#222">60h</text>
<line x1="47.10" y1="252.20" x2="63.90" y2="252.20" stroke="#f1ad32" stroke-width="1.6"/>
<rect x="53.9" y="250.20" width="4" height="4" rx="0.4" fill="#fff" stroke="#f1ad32" stroke-opacity="0.45" stroke-width="0.7"/>
<text x="68.00" y="255.40" font-size="9.0" font-weight="bold" text-anchor="start" fill="#222">100h</text>
<line x1="47.10" y1="264.70" x2="63.90" y2="264.70" stroke="#60a8ca" stroke-width="1.6"/>
<rect x="53.9" y="262.70" width="4" height="4" rx="0.4" fill="#fff" stroke="#60a8ca" stroke-opacity="0.45" stroke-width="0.7"/>
<text x="68.00" y="267.90" font-size="9.0" font-weight="bold" text-anchor="start" fill="#222">300h</text>
<text x="234.60" y="203.60" font-size="15.2" font-weight="bold" text-anchor="start" fill="#111">e</text>
<rect x="274.80" y="206.50" width="34.20" height="131.50" fill="#fbf8f2"/>
<rect x="312.80" y="206.50" width="30.50" height="131.50" fill="#f6ebdf"/>
<rect x="347.10" y="206.50" width="33.50" height="131.50" fill="#f2e1d9"/>
<rect x="384.30" y="206.50" width="33.50" height="131.50" fill="#f6ebdf"/>
<rect x="421.40" y="206.50" width="34.30" height="131.50" fill="#fbf8f2"/>
<polygon points="275.10,238.26 275.60,236.49 276.10,237.56 276.60,236.87 277.10,238.34 277.60,238.70 278.10,238.14 278.60,237.80 279.10,238.37 279.60,238.16 280.10,237.94 280.60,238.19 281.10,237.03 281.60,235.41 282.10,237.46 282.60,237.87 283.10,237.44 283.60,237.07 284.10,235.74 284.60,237.18 285.10,237.15 285.60,237.73 286.10,238.41 286.60,235.86 287.10,234.63 287.60,236.03 288.10,237.47 288.60,237.62 289.10,237.69 289.60,237.62 290.10,236.09 290.60,238.47 291.10,239.51 291.60,238.28 292.10,237.34 292.60,236.60 293.10,236.84 293.60,235.25 294.10,235.83 294.60,236.57 295.10,237.19 295.60,237.66 296.10,238.28 296.60,238.17 297.10,237.03 297.60,237.41 298.10,239.68 298.60,240.84 299.10,238.24 299.60,238.58 300.10,237.31 300.60,236.97 301.10,235.26 301.60,236.23 302.10,238.30 302.60,237.48 303.10,236.01 303.60,236.53 304.10,236.35 304.60,237.37 305.10,239.04 305.60,236.56 306.10,238.08 306.60,237.21 307.10,237.62 307.60,237.55 308.10,237.01 308.60,236.93 308.60,252.61 308.10,249.10 307.60,249.49 307.10,251.00 306.60,248.77 306.10,251.08 305.60,249.53 305.10,251.14 304.60,248.90 304.10,249.36 303.60,249.26 303.10,254.09 302.60,249.57 302.10,250.69 301.60,249.82 301.10,250.47 300.60,250.72 300.10,251.62 299.60,249.97 299.10,249.33 298.60,248.56 298.10,251.13 297.60,247.87 297.10,248.84 296.60,249.68 296.10,250.76 295.60,252.53 295.10,248.82 294.60,247.65 294.10,248.06 293.60,248.79 293.10,247.64 292.60,250.25 292.10,247.63 291.60,248.10 291.10,249.62 290.60,250.96 290.10,248.73 289.60,248.79 289.10,248.19 288.60,250.58 288.10,248.91 287.60,248.94 287.10,248.49 286.60,247.04 286.10,249.34 285.60,253.04 285.10,247.95 284.60,248.64 284.10,253.10 283.60,248.43 283.10,249.55 282.60,250.14 282.10,250.87 281.60,250.45 281.10,254.03 280.60,250.27 280.10,251.69 279.60,252.36 279.10,251.74 278.60,249.99 278.10,250.78 277.60,250.29 277.10,250.74 276.60,250.69 276.10,250.93 275.60,252.63 275.10,249.58" fill="#707377"/>
<text x="278.00" y="229.90" font-size="7.3" font-weight="bold" text-anchor="start" fill="#c8962e">37.00 °C</text>
<polygon points="313.10,272.34 313.60,274.83 314.10,274.41 314.60,274.12 315.10,271.35 315.60,274.81 316.10,273.59 316.60,273.92 317.10,272.94 317.60,273.24 318.10,272.75 318.60,271.54 319.10,272.54 319.60,272.46 320.10,274.23 320.60,274.30 321.10,272.75 321.60,273.54 322.10,273.18 322.60,271.65 323.10,273.60 323.60,272.34 324.10,272.99 324.60,272.74 325.10,273.84 325.60,271.88 326.10,273.94 326.60,273.69 327.10,273.68 327.60,274.83 328.10,271.82 328.60,274.79 329.10,276.09 329.60,275.06 330.10,275.86 330.60,274.00 331.10,272.71 331.60,274.21 332.10,273.96 332.60,274.04 333.10,275.38 333.60,273.75 334.10,274.81 334.60,274.46 335.10,272.67 335.60,275.24 336.10,274.62 336.60,274.14 337.10,274.13 337.60,274.81 338.10,273.97 338.60,274.17 339.10,274.40 339.60,274.66 340.10,272.90 340.60,271.78 341.10,271.92 341.60,272.79 342.10,272.86 342.60,273.81 343.10,270.47 343.10,286.50 342.60,289.55 342.10,287.44 341.60,287.72 341.10,287.67 340.60,286.96 340.10,286.24 339.60,285.15 339.10,284.46 338.60,283.21 338.10,285.15 337.60,285.40 337.10,285.70 336.60,284.92 336.10,285.97 335.60,283.93 335.10,284.63 334.60,285.40 334.10,286.19 333.60,284.82 333.10,284.92 332.60,284.94 332.10,284.56 331.60,283.52 331.10,284.44 330.60,287.94 330.10,285.95 329.60,285.71 329.10,286.36 328.60,286.04 328.10,288.15 327.60,286.26 327.10,286.17 326.60,285.43 326.10,286.48 325.60,287.48 325.10,286.18 324.60,287.62 324.10,286.06 323.60,286.94 323.10,291.84 322.60,286.90 322.10,287.48 321.60,288.28 321.10,288.51 320.60,285.43 320.10,285.75 319.60,287.48 319.10,285.96 318.60,285.92 318.10,285.17 317.60,285.60 317.10,284.81 316.60,283.66 316.10,285.21 315.60,284.88 315.10,286.87 314.60,287.69 314.10,286.82 313.60,288.99 313.10,287.87" fill="#707377"/>
<text x="313.60" y="266.30" font-size="7.3" font-weight="bold" text-anchor="start" fill="#d0712e">37.03 °C</text>
<polygon points="347.40,299.82 347.90,302.63 348.40,302.78 348.90,302.08 349.40,302.08 349.90,301.50 350.40,300.68 350.90,302.95 351.40,301.93 351.90,300.21 352.40,301.78 352.90,299.11 353.40,301.93 353.90,302.39 354.40,303.51 354.90,302.46 355.40,303.27 355.90,302.66 356.40,301.00 356.90,300.82 357.40,301.55 357.90,302.80 358.40,303.03 358.90,300.78 359.40,299.47 359.90,301.18 360.40,300.39 360.90,301.68 361.40,299.81 361.90,300.65 362.40,301.14 362.90,301.66 363.40,298.96 363.90,301.14 364.40,299.77 364.90,298.67 365.40,300.37 365.90,301.22 366.40,302.27 366.90,301.07 367.40,301.19 367.90,300.81 368.40,301.77 368.90,300.10 369.40,300.08 369.90,299.77 370.40,301.46 370.90,301.84 371.40,301.69 371.90,298.20 372.40,299.40 372.90,300.98 373.40,301.01 373.90,302.56 374.40,298.54 374.90,302.07 375.40,302.38 375.90,300.48 376.40,301.55 376.90,303.41 377.40,301.79 377.90,303.35 378.40,303.80 378.90,301.37 379.40,302.62 379.90,300.83 380.40,298.73 380.40,315.81 379.90,315.69 379.40,315.29 378.90,315.44 378.40,315.22 377.90,316.29 377.40,314.99 376.90,312.81 376.40,315.82 375.90,315.39 375.40,316.08 374.90,314.14 374.40,316.12 373.90,314.36 373.40,313.99 372.90,318.34 372.40,315.45 371.90,314.35 371.40,315.81 370.90,314.74 370.40,313.53 369.90,314.04 369.40,315.76 368.90,316.22 368.40,315.72 367.90,313.34 367.40,315.89 366.90,314.47 366.40,315.10 365.90,315.76 365.40,315.34 364.90,314.39 364.40,313.79 363.90,313.28 363.40,318.18 362.90,314.97 362.40,315.66 361.90,315.73 361.40,316.23 360.90,315.44 360.40,315.72 359.90,316.23 359.40,316.22 358.90,316.42 358.40,314.58 357.90,314.70 357.40,314.32 356.90,313.62 356.40,318.02 355.90,317.41 355.40,314.39 354.90,317.93 354.40,313.19 353.90,314.21 353.40,317.75 352.90,316.12 352.40,312.99 351.90,317.85 351.40,314.24 350.90,314.60 350.40,314.64 349.90,314.50 349.40,313.71 348.90,313.93 348.40,314.01 347.90,314.56 347.40,313.98" fill="#707377"/>
<text x="349.20" y="295.10" font-size="7.3" font-weight="bold" text-anchor="start" fill="#9c3b2a">37.06 °C</text>
<polygon points="384.60,278.11 385.10,279.37 385.60,279.05 386.10,278.76 386.60,277.39 387.10,279.54 387.60,277.16 388.10,278.16 388.60,278.53 389.10,278.85 389.60,277.62 390.10,279.09 390.60,277.53 391.10,279.22 391.60,277.52 392.10,280.75 392.60,279.71 393.10,278.46 393.60,276.66 394.10,279.46 394.60,278.68 395.10,278.58 395.60,280.33 396.10,278.57 396.60,279.52 397.10,280.02 397.60,279.91 398.10,280.51 398.60,279.61 399.10,278.61 399.60,279.09 400.10,278.07 400.60,279.42 401.10,278.76 401.60,277.94 402.10,277.56 402.60,278.81 403.10,278.51 403.60,278.18 404.10,278.84 404.60,276.59 405.10,275.69 405.60,278.60 406.10,276.84 406.60,278.65 407.10,277.82 407.60,279.62 408.10,275.44 408.60,280.46 409.10,279.71 409.60,277.79 410.10,277.65 410.60,279.42 411.10,279.97 411.60,278.54 412.10,278.79 412.60,277.15 413.10,279.57 413.60,279.10 414.10,278.15 414.60,280.15 415.10,280.31 415.60,279.14 416.10,277.87 416.60,278.09 417.10,276.87 417.60,277.87 417.60,290.82 417.10,290.04 416.60,290.20 416.10,290.02 415.60,290.48 415.10,291.49 414.60,291.58 414.10,290.12 413.60,290.28 413.10,292.70 412.60,290.47 412.10,295.96 411.60,290.86 411.10,292.45 410.60,291.18 410.10,291.02 409.60,290.00 409.10,290.30 408.60,290.71 408.10,290.48 407.60,289.60 407.10,290.10 406.60,291.53 406.10,292.54 405.60,293.15 405.10,290.80 404.60,292.33 404.10,291.88 403.60,291.54 403.10,291.41 402.60,291.64 402.10,293.57 401.60,292.46 401.10,292.25 400.60,290.77 400.10,292.50 399.60,290.18 399.10,290.65 398.60,288.93 398.10,290.42 397.60,290.27 397.10,290.68 396.60,290.39 396.10,292.44 395.60,292.08 395.10,291.18 394.60,292.48 394.10,290.72 393.60,292.90 393.10,293.92 392.60,290.49 392.10,290.75 391.60,290.22 391.10,290.22 390.60,290.30 390.10,293.41 389.60,292.13 389.10,291.84 388.60,291.95 388.10,289.83 387.60,294.34 387.10,290.80 386.60,291.58 386.10,291.04 385.60,290.52 385.10,290.11 384.60,292.34" fill="#707377"/>
<text x="386.90" y="268.70" font-size="7.3" font-weight="bold" text-anchor="start" fill="#d0712e">37.03 °C</text>
<polygon points="421.70,242.11 422.20,242.85 422.70,241.94 423.20,243.70 423.70,242.14 424.20,242.34 424.70,243.00 425.20,243.06 425.70,241.98 426.20,243.48 426.70,245.68 427.20,244.54 427.70,242.81 428.20,244.04 428.70,244.07 429.20,241.63 429.70,244.58 430.20,243.91 430.70,243.56 431.20,244.90 431.70,245.53 432.20,242.76 432.70,242.22 433.20,243.28 433.70,242.28 434.20,240.70 434.70,240.66 435.20,245.33 435.70,243.85 436.20,244.47 436.70,241.95 437.20,243.10 437.70,242.22 438.20,243.76 438.70,243.06 439.20,242.46 439.70,239.67 440.20,243.28 440.70,241.34 441.20,240.92 441.70,241.59 442.20,242.26 442.70,241.62 443.20,242.61 443.70,238.26 444.20,242.22 444.70,241.68 445.20,242.09 445.70,242.08 446.20,241.74 446.70,244.67 447.20,243.40 447.70,243.06 448.20,243.32 448.70,243.17 449.20,242.00 449.70,241.28 450.20,242.20 450.70,240.04 451.20,241.36 451.70,239.75 452.20,241.15 452.70,242.14 453.20,242.14 453.70,242.49 454.20,242.18 454.70,242.65 455.20,241.60 455.20,254.98 454.70,258.90 454.20,254.76 453.70,254.93 453.20,255.32 452.70,255.82 452.20,254.89 451.70,254.84 451.20,255.54 450.70,258.96 450.20,255.18 449.70,255.99 449.20,256.04 448.70,256.52 448.20,256.28 447.70,256.46 447.20,258.23 446.70,255.55 446.20,257.08 445.70,258.29 445.20,255.07 444.70,256.97 444.20,254.76 443.70,257.56 443.20,259.04 442.70,257.11 442.20,257.04 441.70,256.12 441.20,256.80 440.70,259.82 440.20,256.29 439.70,256.59 439.20,255.81 438.70,256.36 438.20,254.05 437.70,253.84 437.20,259.23 436.70,255.33 436.20,254.48 435.70,255.21 435.20,254.45 434.70,257.58 434.20,258.45 433.70,258.00 433.20,255.08 432.70,255.28 432.20,254.17 431.70,257.79 431.20,255.39 430.70,256.76 430.20,260.63 429.70,254.67 429.20,254.77 428.70,260.25 428.20,254.10 427.70,253.93 427.20,255.56 426.70,252.95 426.20,253.79 425.70,254.26 425.20,254.38 424.70,260.09 424.20,256.40 423.70,256.30 423.20,256.57 422.70,256.01 422.20,255.79 421.70,255.02" fill="#707377"/>
<text x="422.50" y="233.00" font-size="7.3" font-weight="bold" text-anchor="start" fill="#c8962e">37.00 °C</text>
<line x1="274.8" y1="206.5" x2="274.8" y2="338.0" stroke="#000" stroke-width="1.5"/>
<line x1="455.7" y1="206.5" x2="455.7" y2="338.0" stroke="#000" stroke-width="1.5"/>
<line x1="274.05" y1="206.50" x2="307.90" y2="206.50" stroke="#000" stroke-width="1.5"/>
<line x1="313.90" y1="206.50" x2="342.20" y2="206.50" stroke="#000" stroke-width="1.5"/>
<line x1="348.20" y1="206.50" x2="379.45" y2="206.50" stroke="#000" stroke-width="1.5"/>
<line x1="385.45" y1="206.50" x2="416.60" y2="206.50" stroke="#000" stroke-width="1.5"/>
<line x1="422.60" y1="206.50" x2="456.45" y2="206.50" stroke="#000" stroke-width="1.5"/>
<line x1="307.80" y1="208.60" x2="310.80" y2="204.40" stroke="#000" stroke-width="1.3" stroke-linecap="round"/>
<line x1="311.00" y1="208.60" x2="314.00" y2="204.40" stroke="#000" stroke-width="1.3" stroke-linecap="round"/>
<line x1="342.10" y1="208.60" x2="345.10" y2="204.40" stroke="#000" stroke-width="1.3" stroke-linecap="round"/>
<line x1="345.30" y1="208.60" x2="348.30" y2="204.40" stroke="#000" stroke-width="1.3" stroke-linecap="round"/>
<line x1="379.35" y1="208.60" x2="382.35" y2="204.40" stroke="#000" stroke-width="1.3" stroke-linecap="round"/>
<line x1="382.55" y1="208.60" x2="385.55" y2="204.40" stroke="#000" stroke-width="1.3" stroke-linecap="round"/>
<line x1="416.50" y1="208.60" x2="419.50" y2="204.40" stroke="#000" stroke-width="1.3" stroke-linecap="round"/>
<line x1="419.70" y1="208.60" x2="422.70" y2="204.40" stroke="#000" stroke-width="1.3" stroke-linecap="round"/>
<line x1="274.05" y1="338.00" x2="307.90" y2="338.00" stroke="#000" stroke-width="1.5"/>
<line x1="313.90" y1="338.00" x2="342.20" y2="338.00" stroke="#000" stroke-width="1.5"/>
<line x1="348.20" y1="338.00" x2="379.45" y2="338.00" stroke="#000" stroke-width="1.5"/>
<line x1="385.45" y1="338.00" x2="416.60" y2="338.00" stroke="#000" stroke-width="1.5"/>
<line x1="422.60" y1="338.00" x2="456.45" y2="338.00" stroke="#000" stroke-width="1.5"/>
<line x1="307.80" y1="340.10" x2="310.80" y2="335.90" stroke="#000" stroke-width="1.3" stroke-linecap="round"/>
<line x1="311.00" y1="340.10" x2="314.00" y2="335.90" stroke="#000" stroke-width="1.3" stroke-linecap="round"/>
<line x1="342.10" y1="340.10" x2="345.10" y2="335.90" stroke="#000" stroke-width="1.3" stroke-linecap="round"/>
<line x1="345.30" y1="340.10" x2="348.30" y2="335.90" stroke="#000" stroke-width="1.3" stroke-linecap="round"/>
<line x1="379.35" y1="340.10" x2="382.35" y2="335.90" stroke="#000" stroke-width="1.3" stroke-linecap="round"/>
<line x1="382.55" y1="340.10" x2="385.55" y2="335.90" stroke="#000" stroke-width="1.3" stroke-linecap="round"/>
<line x1="416.50" y1="340.10" x2="419.50" y2="335.90" stroke="#000" stroke-width="1.3" stroke-linecap="round"/>
<line x1="419.70" y1="340.10" x2="422.70" y2="335.90" stroke="#000" stroke-width="1.3" stroke-linecap="round"/>
<line x1="274.80" y1="206.50" x2="277.00" y2="206.50" stroke="#000" stroke-width="1.2"/>
<text x="269.60" y="210.00" font-size="9.8" font-weight="bold" text-anchor="end" fill="#222">0.2</text>
<line x1="274.80" y1="244.17" x2="277.00" y2="244.17" stroke="#000" stroke-width="1.2"/>
<text x="269.60" y="247.67" font-size="9.8" font-weight="bold" text-anchor="end" fill="#222">0.0</text>
<line x1="274.80" y1="281.83" x2="277.00" y2="281.83" stroke="#000" stroke-width="1.2"/>
<text x="269.60" y="285.33" font-size="9.8" font-weight="bold" text-anchor="end" fill="#222">-0.2</text>
<line x1="274.80" y1="319.50" x2="277.00" y2="319.50" stroke="#000" stroke-width="1.2"/>
<text x="269.60" y="323.00" font-size="9.8" font-weight="bold" text-anchor="end" fill="#222">-0.4</text>
<text x="365.50" y="352.40" font-size="10" font-weight="bold" text-anchor="middle" fill="#222">Time (s)</text>
<text x="243.10" y="272.00" font-size="10" font-weight="bold" text-anchor="middle" fill="#222" transform="rotate(-90 243.10 272.00)">ΔR/R (%)</text>
<text x="474.00" y="203.30" font-size="14" font-weight="bold" text-anchor="start" fill="#111">f</text>
<rect x="505.3" y="202.15" width="57.40" height="129.15" fill="#ebeff3"/>
<rect x="562.7" y="202.15" width="120.20" height="129.15" fill="#f6eadd"/>
<polyline points="505.30,318.85 563.32,318.85 564.50,318.38 566.28,313.69 568.05,305.47 570.42,294.90 573.38,278.47 576.34,260.85 578.71,243.24 581.08,232.68 584.63,226.10 588.18,222.81 594.10,220.00 600.02,217.88 605.94,216.00 614.82,214.60 623.70,213.89 653.30,213.19 682.90,212.48" fill="none" stroke="#7d8083" stroke-width="1.5" stroke-linejoin="round" stroke-linecap="round"/>
<line x1="505.3" y1="260.8" x2="576.5" y2="260.8" stroke="#111" stroke-width="1.5" stroke-dasharray="3.8,1.9"/>
<line x1="575.7" y1="202.15" x2="575.7" y2="331.3" stroke="#111" stroke-width="1.5" stroke-dasharray="3.8,1.9"/>
<line x1="565.00" y1="223.00" x2="573.40" y2="223.00" stroke="#111" stroke-width="1.4"/>
<path d="M562.4,223.0 L566.2,221.1 L566.2,224.9 Z" fill="#111"/><path d="M575.9,223.0 L572.1,221.1 L572.1,224.9 Z" fill="#111"/>
<text x="552.30" y="230.50" font-size="8.6" font-weight="bold" text-anchor="middle" fill="#222">τ=</text>
<text x="551.60" y="241.20" font-size="8.6" font-weight="bold" text-anchor="middle" fill="#222">224 ms</text>
<text x="522.30" y="315.20" font-size="8.6" font-weight="bold" text-anchor="start" fill="#2a6ab0">25 °C</text>
<text x="656.20" y="223.00" font-size="8.6" font-weight="bold" text-anchor="start" fill="#a0202a">70 °C</text>
<rect x="505.3" y="202.15" width="177.60" height="129.15" fill="none" stroke="#111" stroke-width="1.6"/>
<line x1="505.30" y1="331.30" x2="505.30" y2="329.10" stroke="#000" stroke-width="1.1"/>
<text x="505.30" y="344.60" font-size="10" font-weight="bold" text-anchor="middle" fill="#222">4</text>
<line x1="564.50" y1="331.30" x2="564.50" y2="329.10" stroke="#000" stroke-width="1.1"/>
<text x="564.50" y="344.60" font-size="10" font-weight="bold" text-anchor="middle" fill="#222">5</text>
<line x1="623.70" y1="331.30" x2="623.70" y2="329.10" stroke="#000" stroke-width="1.1"/>
<text x="623.70" y="344.60" font-size="10" font-weight="bold" text-anchor="middle" fill="#222">6</text>
<line x1="682.90" y1="331.30" x2="682.90" y2="329.10" stroke="#000" stroke-width="1.1"/>
<text x="682.90" y="344.60" font-size="10" font-weight="bold" text-anchor="middle" fill="#222">7</text>
<line x1="505.30" y1="331.30" x2="507.50" y2="331.30" stroke="#000" stroke-width="1.1"/>
<text x="500.60" y="334.85" font-size="10" font-weight="bold" text-anchor="end" fill="#222">20</text>
<line x1="505.30" y1="307.82" x2="507.50" y2="307.82" stroke="#000" stroke-width="1.1"/>
<text x="500.60" y="311.37" font-size="10" font-weight="bold" text-anchor="end" fill="#222">30</text>
<line x1="505.30" y1="284.34" x2="507.50" y2="284.34" stroke="#000" stroke-width="1.1"/>
<text x="500.60" y="287.89" font-size="10" font-weight="bold" text-anchor="end" fill="#222">40</text>
<line x1="505.30" y1="260.85" x2="507.50" y2="260.85" stroke="#000" stroke-width="1.1"/>
<text x="500.60" y="264.40" font-size="10" font-weight="bold" text-anchor="end" fill="#222">50</text>
<line x1="505.30" y1="237.37" x2="507.50" y2="237.37" stroke="#000" stroke-width="1.1"/>
<text x="500.60" y="240.92" font-size="10" font-weight="bold" text-anchor="end" fill="#222">60</text>
<line x1="505.30" y1="213.89" x2="507.50" y2="213.89" stroke="#000" stroke-width="1.1"/>
<text x="500.60" y="217.44" font-size="10" font-weight="bold" text-anchor="end" fill="#222">70</text>
<line x1="505.30" y1="319.56" x2="506.80" y2="319.56" stroke="#000" stroke-width="1.0"/>
<line x1="505.30" y1="296.08" x2="506.80" y2="296.08" stroke="#000" stroke-width="1.0"/>
<line x1="505.30" y1="272.60" x2="506.80" y2="272.60" stroke="#000" stroke-width="1.0"/>
<line x1="505.30" y1="249.11" x2="506.80" y2="249.11" stroke="#000" stroke-width="1.0"/>
<line x1="505.30" y1="225.63" x2="506.80" y2="225.63" stroke="#000" stroke-width="1.0"/>
<text x="593.60" y="359.20" font-size="10" font-weight="bold" text-anchor="middle" fill="#222">Time (s)</text>
<text x="481.10" y="267.00" font-size="10.8" text-anchor="middle" fill="#222" transform="rotate(-90 481.10 267.00)" stroke="#222" stroke-width="0.3">Temperature (°C)</text>
</svg>
</body></html>
